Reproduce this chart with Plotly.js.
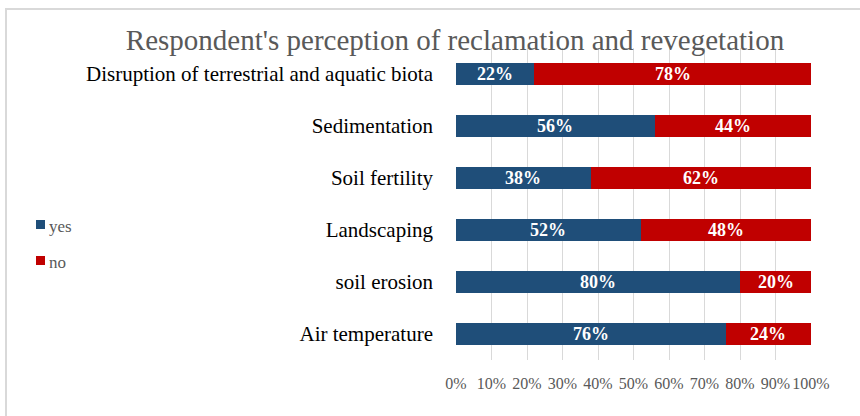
<!DOCTYPE html>
<html>
<head>
<meta charset="utf-8">
<script src="https://cdn.plot.ly/plotly-3.0.1.min.js"></script>
<style>
html,body{margin:0;padding:0;background:#fff;}
#chart{width:860px;height:416px;}
</style>
</head>
<body>
<div id="chart"></div>
<script>
const categories = ["Disruption of terrestrial and aquatic biota","Sedimentation","Soil fertility","Landscaping","soil erosion","Air temperature"];
const yesValues = [22,56,38,52,80,76];
const noValues = [78,44,62,48,20,24];
const seriesNames = ["yes","no"];
const seriesColors = ["#1F4E79","#C00000"];
const xTickVals = [0,10,20,30,40,50,60,70,80,90,100];
const xTickText = ["0%","10%","20%","30%","40%","50%","60%","70%","80%","90%","100%"];

const serif = "Liberation Serif, Times New Roman, serif";
const labelFont = {family: serif, size: 18, color: "#ffffff", weight: "bold"};

const traces = [
  {type:"bar", orientation:"h", name:seriesNames[0], y:categories, x:yesValues,
   marker:{color:seriesColors[0]}, hoverinfo:"none", showlegend:false},
  {type:"bar", orientation:"h", name:seriesNames[1], y:categories, x:noValues,
   marker:{color:seriesColors[1]}, hoverinfo:"none", showlegend:false}
];

// data labels through the data axes
const annotations = [];
categories.forEach((c,i)=>{
  annotations.push({xref:"x", yref:"y", x:yesValues[i]/2, y:c, text:yesValues[i]+"%", showarrow:false,
    font:labelFont, xanchor:"center", yanchor:"middle"});
  annotations.push({xref:"x", yref:"y", x:yesValues[i]+noValues[i]/2, y:c, text:noValues[i]+"%", showarrow:false,
    font:labelFont, xanchor:"center", yanchor:"middle"});
});

// manual legend (pixel-placed, paper coords)
const L = 456, W = 355, B = 360, H = 312;
const px = v => (v - L)/W;
const py = v => (B - v)/H;
const legendY = [225, 261];
const shapes = [{type:"rect", xref:"paper", yref:"paper", x0:px(6), x1:1.5, y0:-0.5, y1:py(9),
    line:{color:"#d9d9d9", width:2}, fillcolor:"rgba(0,0,0,0)", layer:"below"}];
seriesNames.forEach((n,k)=>{
  shapes.push({type:"rect", xref:"paper", yref:"paper", x0:px(36), x1:px(45), y0:py(legendY[k]-5), y1:py(legendY[k]+4),
    line:{width:0}, fillcolor:seriesColors[k]});
  annotations.push({xref:"paper", yref:"paper", x:px(47), y:py(legendY[k]+1), text:n, showarrow:false,
    xanchor:"left", yanchor:"middle", font:{family:serif, size:17, color:"#595959"}});
});

const layout = {
  width:860, height:416,
  margin:{l:L, r:860-L-W, t:48, b:416-B},
  paper_bgcolor:"#fff", plot_bgcolor:"#fff",
  barmode:"stack", bargap:0.58,
  title:{text:"Respondent's perception of reclamation and revegetation",
    font:{family:serif, size:29, color:"#595959"},
    xref:"container", x:455/860, xanchor:"center", yref:"container", y:1-40/416, yanchor:"middle"},
  xaxis:{range:[0,100], tickvals:xTickVals, ticktext:xTickText, showgrid:true, gridcolor:"#d9d9d9", gridwidth:1,
    zeroline:false, showline:false, ticks:"", ticklabelstandoff:12,
    tickfont:{family:serif, size:16, color:"#595959"}, fixedrange:true},
  yaxis:{type:"category", autorange:"reversed", showgrid:false, zeroline:false, showline:false,
    ticks:"", ticklabelstandoff:22, tickfont:{family:serif, size:21, color:"#000000"}},
  showlegend:false,
  annotations:annotations,
  shapes:shapes
};

Plotly.newPlot("chart", traces, layout, {staticPlot:true, displayModeBar:false});
</script>
</body>
</html>
